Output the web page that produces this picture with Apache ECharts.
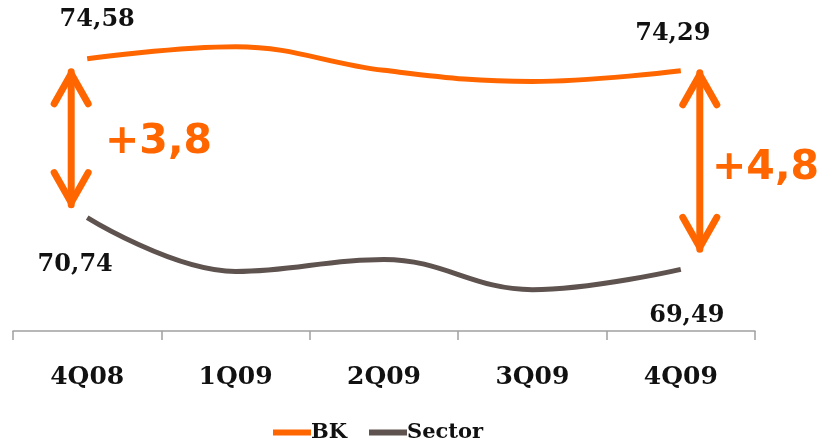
<!DOCTYPE html>
<html>
<head>
<meta charset="utf-8">
<script src="https://cdn.jsdelivr.net/npm/echarts@6/dist/echarts.min.js"></script>
<style>
  html, body { margin: 0; padding: 0; background: #fff; }
  #main { width: 821px; height: 446px; }
</style>
</head>
<body>
<div id="main"></div>
<script>
// quarters on the x axis
const quarters = ['4Q08', '1Q09', '2Q09', '3Q09', '4Q09'];
// values (only first and last are printed)
const bkValues = [74.58, 74.87, 74.30, 74.03, 74.29];
const sectorValues = [70.74, 69.44, 69.73, 69.00, 69.49];
const gapLabels = ['+3,8', '+4,8'];

const ORANGE = '#ff6600';
const GREY = '#5f5350';
const slab = '"DejaVu Serif", serif';

const fmt = v => v.toFixed(2).replace('.', ',');

// label only on the first and last point
function buildData(values, firstOffset, lastOffset) {
  return values.map((v, i) => {
    const item = { value: v };
    if (i === 0 || i === values.length - 1) {
      item.label = {
        show: true,
        formatter: fmt(v),
        offset: i === 0 ? firstOffset : lastOffset
      };
    }
    return item;
  });
}

const chart = echarts.init(document.getElementById('main'));
chart.setOption({
  animation: false,
  grid: { left: 13, right: 66, top: 0, bottom: 115 },
  legend: {
    bottom: -2,
    left: 268,
    icon: 'rect',
    itemWidth: 38,
    itemHeight: 6,
    itemGap: 22,
    textStyle: { fontFamily: slab, fontWeight: 'bold', fontSize: 21, color: '#111', padding: [0, 0, 0, -5] },
    data: ['BK', 'Sector']
  },
  xAxis: {
    type: 'category',
    data: quarters,
    boundaryGap: true,
    axisLine: { lineStyle: { color: '#a0a0a0', width: 1.5 } },
    axisTick: { show: true, length: 9, lineStyle: { color: '#a0a0a0', width: 1.5 } },
    axisLabel: { margin: 34, fontFamily: slab, fontWeight: 'bold', fontSize: 25, color: '#111' }
  },
  yAxis: {
    type: 'value',
    min: 68,
    max: 76,
    show: false,
    splitLine: { show: false }
  },
  series: [
    {
      name: 'BK',
      type: 'line',
      smooth: 0.4,
      symbol: 'circle',
      symbolSize: 0,
      color: ORANGE,
      lineStyle: { width: 5, color: ORANGE },
      label: { position: 'top', fontFamily: slab, fontWeight: 'bold', fontSize: 24, color: '#111' },
      data: buildData(bkValues, [10, -22], [-8, -20])
    },
    {
      name: 'Sector',
      type: 'line',
      smooth: 0.4,
      symbol: 'circle',
      symbolSize: 0,
      color: GREY,
      lineStyle: { width: 5, color: GREY },
      label: { position: 'bottom', fontFamily: slab, fontWeight: 'bold', fontSize: 24, color: '#111' },
      data: buildData(sectorValues, [-12, 30], [6, 29])
    }
  ]
});

// gap arrows, placed from the data positions
function arrow(x, y1, y2) {
  const h = 17, l = 32;
  const style = { stroke: ORANGE, lineWidth: 7, lineCap: 'round', lineJoin: 'round', fill: null };
  return [
    { type: 'line', shape: { x1: x, y1: y1, x2: x, y2: y2 }, style: style },
    { type: 'polyline', shape: { points: [[x - h, y1 + l], [x, y1 + 2], [x + h, y1 + l]] }, style: style },
    { type: 'polyline', shape: { points: [[x - h, y2 - l], [x, y2 - 2], [x + h, y2 - l]] }, style: style }
  ];
}
const last = quarters.length - 1;
const p0top = chart.convertToPixel({ xAxisIndex: 0, yAxisIndex: 0 }, [0, bkValues[0]]);
const p0bot = chart.convertToPixel({ xAxisIndex: 0, yAxisIndex: 0 }, [0, sectorValues[0]]);
const p1top = chart.convertToPixel({ xAxisIndex: 0, yAxisIndex: 0 }, [last, bkValues[last]]);
const p1bot = chart.convertToPixel({ xAxisIndex: 0, yAxisIndex: 0 }, [last, sectorValues[last]]);
const gapFont = 'bold 41px "DejaVu Sans", sans-serif';
chart.setOption({
  graphic: [
    ...arrow(p0top[0] - 16, p0top[1] + 13, p0bot[1] - 13),
    ...arrow(p1top[0] + 19, p1top[1] + 2, p1bot[1] - 20),
    { type: 'text', left: 105, top: 122,
      style: { text: gapLabels[0], fill: ORANGE, font: gapFont } },
    { type: 'text', left: 712, top: 148,
      style: { text: gapLabels[1], fill: ORANGE, font: gapFont } }
  ]
});
</script>
</body>
</html>
